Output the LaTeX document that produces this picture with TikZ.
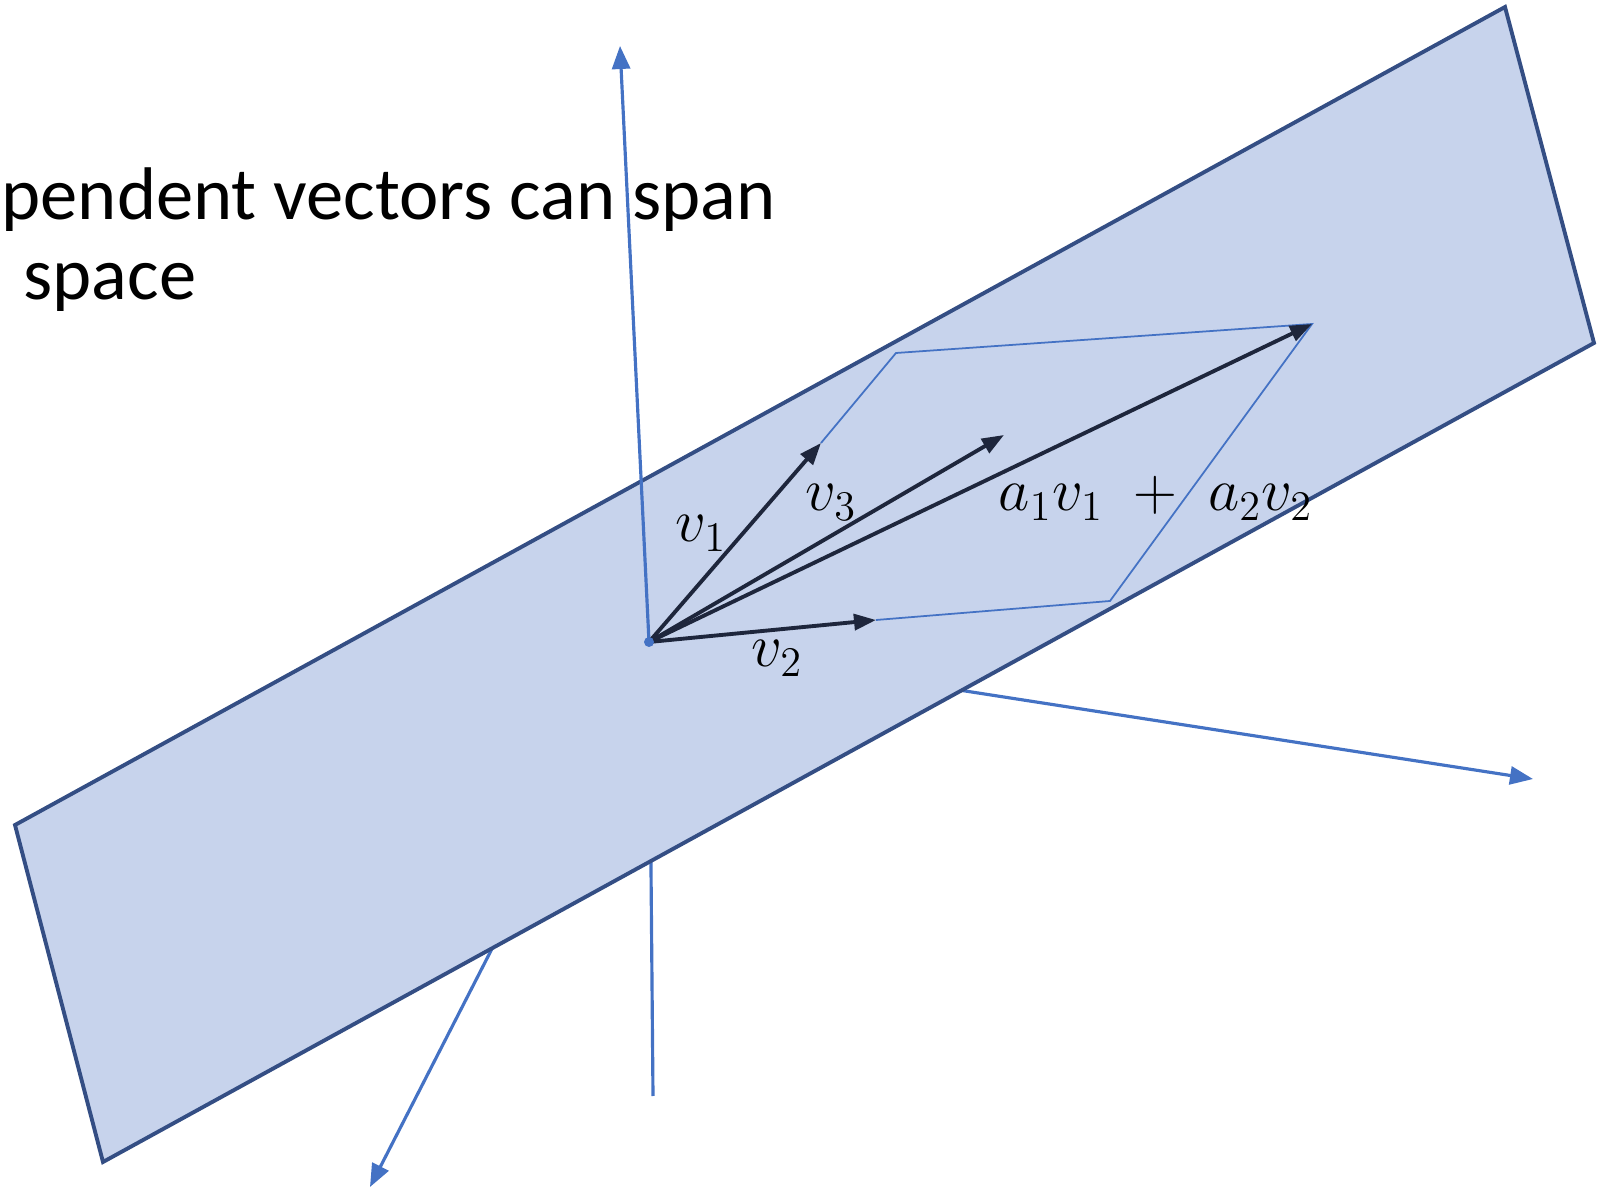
\documentclass[tikz,border=0pt]{standalone}
\usepackage{amsmath}
\usepackage{fontspec}
\setmainfont{Carlito}
\usepackage{xcolor}
\usetikzlibrary{arrows.meta}
\definecolor{planefill}{RGB}{199,211,236}
\definecolor{planeedge}{RGB}{52,78,132}
\definecolor{axisblue}{RGB}{68,114,196}
\definecolor{vecnavy}{RGB}{30,38,60}

\begin{document}
\begin{tikzpicture}[
        x=0.01cm, y=-0.01cm,
        axis/.style={-{Triangle[length=0.23cm,width=0.18cm]}, line width=0.9pt, draw=axisblue},
        vec/.style={-{Triangle[length=0.22cm,width=0.16cm]}, line width=1.1pt, draw=vecnavy},
        grid/.style={line width=0.5pt, draw=axisblue},
        lbl/.style={anchor=base west, inner sep=0, font=\fontsize{18.5}{22}\selectfont},
        title/.style={anchor=base west, inner sep=0, font=\fontsize{21.2}{25}\selectfont}
      ]
        \useasboundingbox (0,0) rectangle (1597,1189);
        \coordinate (O) at (649,642);
        \coordinate (zup) at (620,46);
        \coordinate (xr) at (1533,779);
        \coordinate (yl) at (370,1187);
        \coordinate (zdown) at (653,1096);
        % axes behind the plane
        \draw[axis] (O) -- (xr);
        \draw[axis] (O) -- (yl);
        \draw[line width=0.9pt, draw=axisblue] (O) -- (zdown);
        % the plane
        \coordinate (c1) at (1505,7);
        \coordinate (c2) at (1594,343);
        \coordinate (c3) at (103,1162);
        \coordinate (c4) at (15,825);
        \draw[fill=planefill, draw=planeedge, line width=1.1pt, line join=miter] (c1) -- (c2) -- (c3) -- (c4) -- cycle;
        \draw[axis] (O) -- (zup);
        % vectors in the plane
        \coordinate (v1) at (821,443);
        \coordinate (v3) at (1004,435);
        \coordinate (vs) at (1312,324);
        \coordinate (v2) at (876,620);
        \coordinate (p1) at (896,353);
        \coordinate (p2) at (1110,601);
        \draw[grid] (v1) -- (p1) -- (vs) -- (p2) -- (v2);
        \draw[vec] (O) -- (v1);
        \draw[vec] (O) -- (v3);
        \draw[vec] (O) -- (vs);
        \draw[vec] (O) -- (v2);
        \fill[axisblue] (O) circle (5);
        \node[lbl] (lv1) at (675,542) {$v_1$};
        \node[lbl] (lv3) at (805,511) {$v_3$};
        \node[lbl] (lv2) at (751,667) {$v_2$};
        \node[lbl] (lsum) at (998,511) {$a_1v_1\;+\;a_2v_2$};
        \node[title] (line1) at (1,220) {pendent vectors can span};
        \node[title] (line2) at (23,300) {space};
      \end{tikzpicture}
\end{document}
